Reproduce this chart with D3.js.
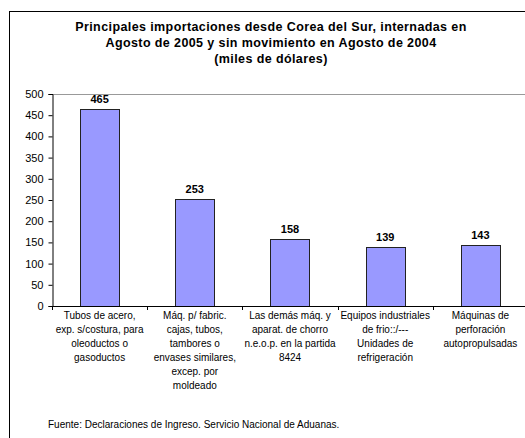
<!DOCTYPE html>
<html>
<head>
<meta charset="utf-8">
<script src="https://cdn.jsdelivr.net/npm/d3@7"></script>
<style>
  body { margin: 0; background: #fff; }
  svg { display: block; font-family: "Liberation Sans", Arial, sans-serif; }
</style>
</head>
<body>
<div id="chart"></div>
<script>
const categories = [
  ["Tubos de acero,", "exp. s/costura, para", "oleoductos o", "gasoductos"],
  ["Máq. p/ fabric.", "cajas, tubos,", "tambores o", "envases similares,", "excep. por", "moldeado"],
  ["Las demás máq. y", "aparat. de chorro", "n.e.o.p. en la partida", "8424"],
  ["Equipos industriales", "de frio::/---", "Unidades de", "refrigeración"],
  ["Máquinas de", "perforación", "autopropulsadas"]
]
const values = [465, 253, 158, 139, 143]
const yTicks = [0, 50, 100, 150, 200, 250, 300, 350, 400, 450, 500]
const titleLines = [
  "Principales importaciones desde Corea del Sur, internadas en",
  "Agosto de 2005 y sin movimiento en Agosto de 2004",
  "(miles de dólares)"
]
const source = "Fuente: Declaraciones de Ingreso. Servicio Nacional de Aduanas."

const W = 525, H = 438
const plot = { left: 52, right: 528, top: 94, bottom: 306 }

const svg = d3.select("#chart").append("svg")
  .attr("width", W).attr("height", H)

// outer frame
svg.append("rect")
  .attr("x", 9.5).attr("y", 11.5)
  .attr("width", W + 20).attr("height", H + 20)
  .attr("fill", "none").attr("stroke", "#000").attr("stroke-width", 1)

// title
svg.append("g").selectAll("text")
  .data(titleLines)
  .join("text")
  .attr("x", 271)
  .attr("y", (d, i) => 31 + i * 16)
  .attr("text-anchor", "middle")
  .attr("font-size", "12.5px")
  .attr("font-weight", "bold")
  .attr("letter-spacing", "0.4px")
  .text(d => d)

const x = d3.scaleBand()
  .domain(d3.range(values.length))
  .range([plot.left, plot.right])
  .paddingInner(0.59)
  .paddingOuter(0.295)

const y = d3.scaleLinear()
  .domain([0, 500])
  .range([plot.bottom, plot.top])

// plot area top border
svg.append("line")
  .attr("x1", plot.left).attr("x2", W)
  .attr("y1", plot.top + 0.5).attr("y2", plot.top + 0.5)
  .attr("stroke", "#999")

// bars
svg.append("g").selectAll("rect")
  .data(values)
  .join("rect")
  .attr("x", (d, i) => Math.round(x(i)) + 0.5)
  .attr("y", d => Math.round(y(d)) + 0.5)
  .attr("width", Math.round(x.bandwidth()))
  .attr("height", d => Math.round(y(0)) - Math.round(y(d)))
  .attr("fill", "#9999ff")
  .attr("stroke", "#222")
  .attr("stroke-width", 1)

// value labels
svg.append("g").selectAll("text")
  .data(values)
  .join("text")
  .attr("x", (d, i) => x(i) + x.bandwidth() / 2)
  .attr("y", d => y(d) - 6)
  .attr("text-anchor", "middle")
  .attr("font-size", "11px")
  .attr("font-weight", "bold")
  .text(d => d)

// y axis
const yAxis = svg.append("g")
  .attr("transform", `translate(${plot.left + 0.5},0)`)
  .call(d3.axisLeft(y).tickValues(yTicks).tickSize(4).tickPadding(5))
yAxis.select(".domain").attr("stroke", "#000")
yAxis.selectAll("text").attr("font-size", "11px").attr("font-family", "Liberation Sans, Arial, sans-serif").attr("fill", "#000")

// x axis
const step = x.step()
const xAxisG = svg.append("g")
xAxisG.append("line")
  .attr("x1", plot.left).attr("x2", W)
  .attr("y1", plot.bottom + 0.5).attr("y2", plot.bottom + 0.5)
  .attr("stroke", "#000")
xAxisG.selectAll("line.tick")
  .data(d3.range(values.length + 1))
  .join("line")
  .attr("class", "tick")
  .attr("x1", i => Math.round(plot.left + i * step) + 0.5)
  .attr("x2", i => Math.round(plot.left + i * step) + 0.5)
  .attr("y1", plot.bottom)
  .attr("y2", plot.bottom + 4)
  .attr("stroke", "#000")

// category labels
const catG = svg.append("g").selectAll("text")
  .data(categories)
  .join("text")
  .attr("text-anchor", "middle")
  .attr("font-size", "10px")
  .attr("fill", "#000")
catG.selectAll("tspan")
  .data((d, i) => d.map(line => ({ line, i })))
  .join("tspan")
  .attr("x", d => x(d.i) + x.bandwidth() / 2)
  .attr("y", (d, j) => 319 + j * 14)
  .text(d => d.line)

// source
svg.append("text")
  .attr("x", 48)
  .attr("y", 428)
  .attr("font-size", "10px")
  .text(source)
</script>
</body>
</html>
